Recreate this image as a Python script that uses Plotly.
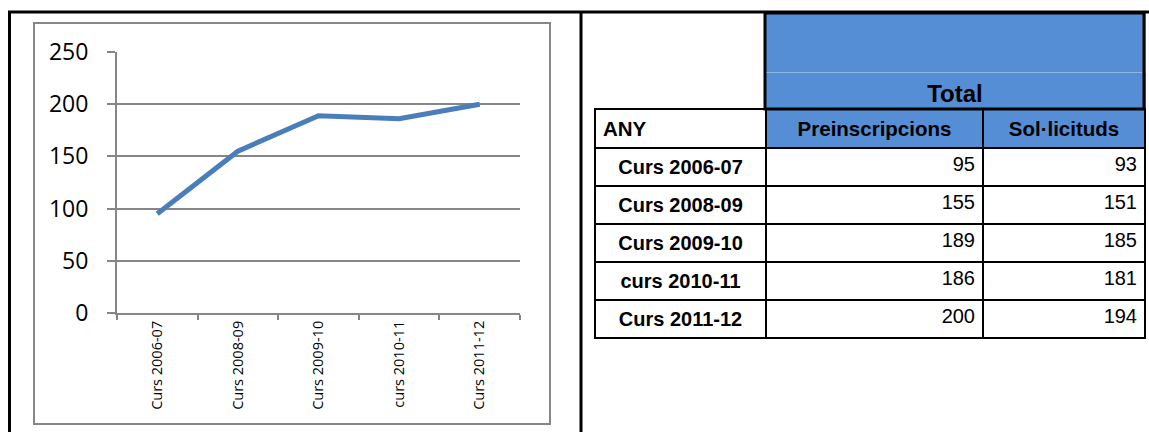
import plotly.graph_objects as go

W, H = 1149, 432

# ---- data ----
courses = ["Curs 2006-07", "Curs 2008-09", "Curs 2009-10", "curs 2010-11", "Curs 2011-12"]
preinscripcions = [95, 155, 189, 186, 200]
sollicituds = [93, 151, 185, 181, 194]
y_ticks = [0, 50, 100, 150, 200, 250]
group_title = "Total"
table_headers = ["ANY", "Preinscripcions", "Sol·licituds"]

BLUE = "#558ED5"
LINE_BLUE = "#4A7EBB"
GRAY = "#868686"
FAINT = "#8FB4E6"
NBSP = "\u00a0"
TFONT = "Liberation Sans, Arial"


def px(x):
    return x / W


def py(y):
    return 1 - y / H


fig = go.Figure()

# line chart
fig.add_trace(go.Scatter(
    x=courses, y=preinscripcions, mode="lines",
    line=dict(color=LINE_BLUE, width=5),
    showlegend=False, hoverinfo="skip",
))

# blue group header block ("Total")
fig.add_trace(go.Table(
    domain=dict(x=[px(765), px(1145)], y=[py(109), py(13)]),
    columnwidth=[1],
    header=dict(
        values=[""],
        fill_color=BLUE,
        line=dict(color=FAINT, width=1),
        font=dict(family=TFONT, size=24, color="black"),
        align="center", height=59,
    ),
    cells=dict(
        values=[["<b>" + group_title + "</b>"]],
        fill_color=BLUE,
        line=dict(color=BLUE, width=1),
        font=dict(family=TFONT, size=24, color="black"),
        align="center", height=37,
    ),
))

# main table
fig.add_trace(go.Table(
    domain=dict(x=[px(595), px(1145)], y=[py(345), py(109)]),
    columnwidth=[171, 217, 162],
    header=dict(
        values=["<b>" + h + "</b>" for h in table_headers],
        fill_color=["white", BLUE, BLUE],
        line=dict(color="black", width=2),
        font=dict(family=TFONT, size=20.5, color="black"),
        align=["left", "center", "center"], height=39,
    ),
    cells=dict(
        values=[["<b>" + c.replace(" ", NBSP) + "</b>" for c in courses], preinscripcions, sollicituds],
        fill_color="white",
        line=dict(color="black", width=2),
        font=dict(family=TFONT, size=20, color="black"),
        align=["center", "right", "right"], height=38,
    ),
))

shapes = [
    # chart area border
    dict(type="rect", xref="paper", yref="paper", x0=px(34), x1=px(550), y0=py(424), y1=py(23),
         line=dict(color=GRAY, width=2), layer="below"),
    # thick border around the blue group header
    dict(type="rect", xref="paper", yref="paper", x0=px(765), x1=px(1144), y0=py(109), y1=py(13),
         line=dict(color="black", width=3)),
    # outer frame lines
    dict(type="line", xref="paper", yref="paper", x0=px(8), x1=1, y0=py(12), y1=py(12),
         line=dict(color="black", width=3)),
    dict(type="line", xref="paper", yref="paper", x0=px(9.5), x1=px(9.5), y0=py(12), y1=0,
         line=dict(color="black", width=3)),
    dict(type="line", xref="paper", yref="paper", x0=px(581), x1=px(581), y0=py(12), y1=0,
         line=dict(color="black", width=3)),
]

fig.update_layout(
    width=W, height=H, autosize=False,
    margin=dict(l=0, r=0, t=0, b=0, pad=0),
    paper_bgcolor="white", plot_bgcolor="white",
    shapes=shapes,
    xaxis=dict(
        domain=[px(117), px(520)],
        type="category", range=[-0.5, len(courses) - 0.5],
        showline=True, linecolor=GRAY, linewidth=2,
        ticks="outside", tickson="boundaries", ticklen=5, tickcolor=GRAY, tickwidth=1.5,
        tickangle=-90,
        tickfont=dict(family="Open Sans", size=14.5, color="black"),
        showgrid=False, automargin=False,
    ),
    yaxis=dict(
        domain=[py(313), py(52)],
        range=[0, 250], tickvals=y_ticks,
        showline=True, linecolor=GRAY, linewidth=2,
        ticks="outside", ticklen=8, tickcolor=GRAY, tickwidth=1.5,
        showgrid=True, gridcolor=GRAY, gridwidth=1.8,
        zeroline=False, automargin=False,
        tickfont=dict(family="Open Sans", size=23, color="black"),
        ticklabelstandoff=14,
    ),
)

fig.write_html(
    "out.html",
    config={"displayModeBar": False},
    post_script="document.documentElement.style.overflow='hidden';"
                "document.body.style.margin='0';document.body.style.overflow='hidden';",
)
